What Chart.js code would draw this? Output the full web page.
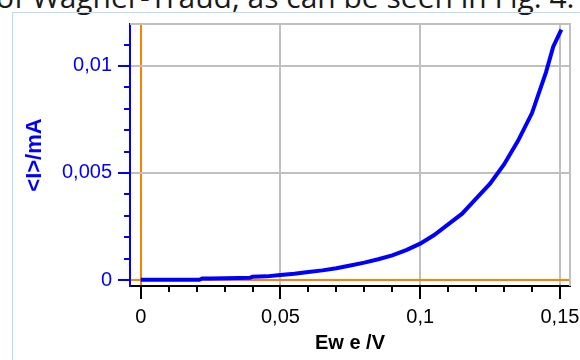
<!DOCTYPE html>
<html>
<head>
<meta charset="utf-8">
<script src="https://cdn.jsdelivr.net/npm/chart.js@4"></script>
<style>
  html, body { margin: 0; padding: 0; width: 580px; height: 360px; overflow: hidden; background: #fff; }
  #caption {
    position: absolute; left: -4px; top: -23px;
    font-family: 'Open Sans', sans-serif; font-size: 30px; line-height: 40px;
    color: #1a1a1a; white-space: nowrap;
  }
  #frame {
    position: absolute; left: 12px; top: 12px; width: 620px; height: 400px;
    border: 1px solid #b9dcf5;
  }
  #wrap { position: absolute; left: 0; top: 0; width: 600px; height: 360px; }
</style>
</head>
<body>
<div id="caption">of Wagner-Traud, as can be seen in Fig. 4.</div>
<div id="frame"></div>
<div id="wrap"><canvas id="ivChart" width="600" height="360"></canvas></div>
<script>
// ================================================================
// data
// ================================================================
const voltage = [0, 0.005, 0.01, 0.015, 0.021, 0.022, 0.025, 0.03, 0.035, 0.039, 0.04,
  0.045, 0.05, 0.055, 0.06, 0.065, 0.07, 0.075, 0.08, 0.085, 0.09, 0.095, 0.1,
  0.105, 0.11, 0.115, 0.12, 0.125, 0.13, 0.135, 0.14, 0.145, 0.1476, 0.1505];
const current = [0.00001, 0.00001, 0.00001, 0.00001, 0.00001, 0.00007, 0.00007, 0.00008, 0.00009, 0.0001, 0.00015,
  0.00017, 0.00023, 0.00029, 0.00037, 0.00045, 0.00055, 0.00068, 0.00081, 0.00097, 0.00115, 0.0014, 0.0017,
  0.0021, 0.0026, 0.0031, 0.0038, 0.0045, 0.0054, 0.0065, 0.0078, 0.0097, 0.0109, 0.0117];

const xTickLabels = ['0', '0,05', '0,1', '0,15'];
const yTickLabels = ['0', '0,005', '0,01'];

const BLUE = '#0000ff';
const ORANGE = '#ff8000';
const GRID = '#c0c0c0';

const isMajor = (v, step) => Math.abs(v / step - Math.round(v / step)) < 1e-6;
const fmt = v => String(+v.toFixed(4)).replace('.', ',');

// minor ticks (shorter) + top/right frame
const extras = {
  id: 'extras',
  beforeDatasetsDraw(chart) {
    const {ctx, chartArea: a} = chart;
    ctx.save();
    ctx.strokeStyle = GRID;
    ctx.lineWidth = 2;
    ctx.beginPath();
    ctx.moveTo(a.left, a.top);
    ctx.lineTo(a.right, a.top);
    ctx.lineTo(a.right, a.bottom);
    ctx.stroke();
    ctx.restore();
  },
  afterDraw(chart) {
    const ctx = chart.ctx;
    const xs = chart.scales.x, ys = chart.scales.y;
    ctx.save();
    ctx.lineWidth = 2;
    ctx.strokeStyle = '#000';
    xs.ticks.forEach(t => {
      if (isMajor(t.value, 0.05)) return;
      const px = Math.round(xs.getPixelForValue(t.value));
      ctx.beginPath(); ctx.moveTo(px, xs.top); ctx.lineTo(px, xs.top + 6); ctx.stroke();
    });
    ctx.strokeStyle = BLUE;
    ys.ticks.forEach(t => {
      if (isMajor(t.value, 0.005)) return;
      const py = Math.round(ys.getPixelForValue(t.value));
      ctx.beginPath(); ctx.moveTo(ys.right, py); ctx.lineTo(ys.right - 6, py); ctx.stroke();
    });
    ctx.restore();
  }
};

const config = {
  type: 'line',
  data: {
    datasets: [{
      data: voltage.map((v, i) => ({x: v, y: current[i]})),
      borderColor: BLUE,
      borderWidth: 4,
      pointRadius: 0,
      tension: 0,
      fill: false
    }]
  },
  options: {
    responsive: false,
    animation: false,
    layout: { padding: { left: 0, top: 24, right: 30, bottom: 0 } },
    plugins: { legend: { display: false }, tooltip: { enabled: false } },
    scales: {
      x: {
        type: 'linear',
        min: -0.00383,
        max: 0.1536,
        afterFit: s => { s.height = 74; },
        ticks: {
          stepSize: 0.01,
          includeBounds: false,
          autoSkip: false,
          maxRotation: 0,
          padding: 6,
          color: '#000',
          font: { family: "'Liberation Sans', Arial, sans-serif", size: 20 },
          callback: v => {
            const s = isMajor(v, 0.05) ? fmt(v) : '';
            return xTickLabels.includes(s) ? s : '';
          }
        },
        grid: {
          color: c => c.tick && Math.abs(c.tick.value) < 1e-9 ? ORANGE
            : (c.tick && isMajor(c.tick.value, 0.05) ? GRID : 'rgba(0,0,0,0)'),
          lineWidth: 2,
          tickLength: 13,
          tickWidth: 2,
          tickColor: c => c.tick && isMajor(c.tick.value, 0.05) ? '#000' : 'rgba(0,0,0,0)'
        },
        border: { color: '#000', width: 2 },
        title: {
          display: true,
          text: 'Ew e /V',
          color: '#000',
          font: { family: "'Liberation Sans', Arial, sans-serif", size: 20, weight: 'bold' },
          padding: { top: 0, bottom: 5 }
        }
      },
      y: {
        type: 'linear',
        min: -0.00028,
        max: 0.01196,
        afterFit: s => { s.width = 130; },
        ticks: {
          stepSize: 0.001,
          includeBounds: false,
          autoSkip: false,
          padding: 6,
          color: BLUE,
          font: { family: "'Liberation Sans', Arial, sans-serif", size: 20 },
          callback: v => {
            const s = isMajor(v, 0.005) ? fmt(v) : '';
            return yTickLabels.includes(s) ? s : '';
          }
        },
        grid: {
          color: c => c.tick && Math.abs(c.tick.value) < 1e-9 ? ORANGE
            : (c.tick && isMajor(c.tick.value, 0.005) ? GRID : 'rgba(0,0,0,0)'),
          lineWidth: 2,
          tickLength: 12,
          tickWidth: 2,
          tickColor: c => c.tick && isMajor(c.tick.value, 0.005) ? BLUE : 'rgba(0,0,0,0)'
        },
        border: { color: BLUE, width: 2 },
        title: {
          display: true,
          text: '<I>/mA',
          color: BLUE,
          font: { family: "'Liberation Sans', Arial, sans-serif", size: 22, weight: 'bold' },
          padding: { top: 22, bottom: 0 }
        }
      }
    }
  },
  plugins: [extras]
};

new Chart(document.getElementById('ivChart'), config);
</script>
</body>
</html>
